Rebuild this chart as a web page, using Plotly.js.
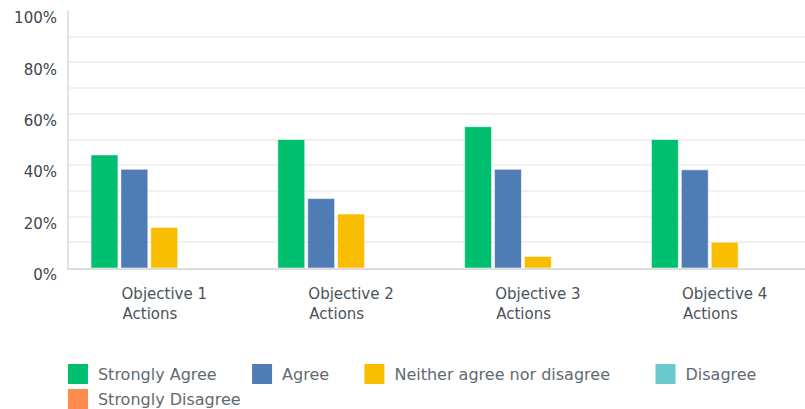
<!DOCTYPE html>
<html>
<head>
<meta charset="utf-8">
<script src="https://cdn.plot.ly/plotly-3.0.1.min.js"></script>
<style>html,body{margin:0;padding:0;background:#fff;overflow:hidden;}#chart{width:805px;height:416px;}</style>
</head>
<body>
<div id="chart"></div>
<script>
var categories = ['Objective 1 Actions', 'Objective 2 Actions', 'Objective 3 Actions', 'Objective 4 Actions'];
var seriesNames = ['Strongly Agree', 'Agree', 'Neither agree nor disagree', 'Disagree', 'Strongly Disagree'];
var stronglyAgree = [44, 50, 55, 50];
var agree = [38.4, 27, 38.4, 38.2];
var neither = [15.8, 21, 4.5, 10];
var disagree = [0, 0, 0, 0];
var stronglyDisagree = [0, 0, 0, 0];
var yTickVals = [0, 20, 40, 60, 80, 100];
var yTickText = ['0%', '20%', '40%', '60%', '80%', '100%'];

var seriesValues = [stronglyAgree, agree, neither, disagree, stronglyDisagree];
var colors = ['#00BF6F', '#507CB6', '#F9BE00', '#6BC8CD', '#FF8B4F'];
var legendOf = ['legend', 'legend', 'legend', 'legend', 'legend2'];
var legendPad = [4, 4, 6, 4, 4];

var NB = '\u00A0';
function pad(n){ var s=''; for (var i=0;i<n;i++) s+=NB; return s; }
var tickText = categories.map(function(c){
  var parts = c.split(' ');
  return parts[0] + ' ' + parts[1] + '<br>' + parts[2] + pad(6);
});

var traces = [];
seriesValues.forEach(function(vals, i){
  traces.push({
    type: 'bar',
    x: categories,
    y: vals,
    name: seriesNames[i],
    showlegend: false,
    marker: {color: colors[i], line: {color: 'rgba(255,255,255,0.55)', width: 1}},
    hoverinfo: 'skip'
  });
});
seriesNames.forEach(function(n, i){
  traces.push({
    type: 'scatter',
    mode: 'markers',
    x: [null],
    y: [null],
    name: n + pad(legendPad[i]),
    legend: legendOf[i],
    showlegend: true,
    marker: {symbol: 'square', size: 16, color: colors[i], line: {color: colors[i], width: 4}},
    hoverinfo: 'skip'
  });
});

var legendBase = {
  orientation: 'h',
  xanchor: 'left',
  yanchor: 'top',
  font: {family: '"DejaVu Sans", sans-serif', size: 16, color: '#5f6a72'},
  itemclick: false, itemdoubleclick: false,
  traceorder: 'normal',
  bgcolor: 'rgba(0,0,0,0)'
};

var layout = {
  width: 805,
  height: 416,
  margin: {l: 69, r: 0, t: 11, b: 148, autoexpand: false},
  paper_bgcolor: '#ffffff',
  plot_bgcolor: '#ffffff',
  font: {family: '"DejaVu Sans", sans-serif', color: '#3b4650', size: 15},
  barmode: 'group',
  bargap: 0.2,
  bargroupgap: 0.1,
  showlegend: true,
  legend: Object.assign({}, legendBase, {x: -0.015, y: -0.3463}),
  legend2: Object.assign({}, legendBase, {x: -0.015, y: -0.4436}),
  xaxis: {
    type: 'category',
    range: [-0.51, 3.43],
    tickmode: 'array',
    tickvals: categories,
    ticktext: tickText,
    ticks: '',
    ticklabelstandoff: 11,
    tickfont: {size: 15, color: '#4a545c'},
    showgrid: false,
    showline: true,
    linecolor: '#dedede',
    linewidth: 2,
    zeroline: false,
    fixedrange: true
  },
  yaxis: {
    range: [0, 100],
    tickmode: 'array',
    tickvals: yTickVals,
    ticktext: yTickText,
    ticks: '',
    ticklabelstandoff: 7,
    ticklabelshift: 7,
    tickfont: {size: 15, color: '#3b4650'},
    showgrid: true,
    gridcolor: '#f1f1f1',
    gridwidth: 2,
    minor: {dtick: 10, tick0: 0, showgrid: true, gridcolor: '#f1f1f1', gridwidth: 2},
    showline: true,
    linecolor: '#e3e3e3',
    linewidth: 2,
    zeroline: false,
    fixedrange: true
  }
};

Plotly.newPlot('chart', traces, layout, {displayModeBar: false, staticPlot: true});
</script>
</body>
</html>
